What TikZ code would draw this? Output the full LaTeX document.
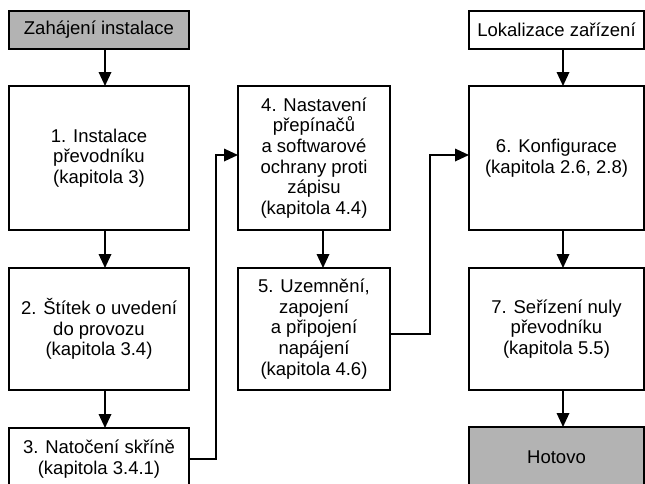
\documentclass[tikz,border=0pt]{standalone}
\usepackage{fontspec}
\setmainfont{Liberation Sans}
\usetikzlibrary{arrows.meta}
\definecolor{boxgray}{RGB}{179,179,179}
\tikzset{
  box/.style={draw=black, line width=1.8pt, rectangle, anchor=north west,
    inner sep=0pt, outer sep=0pt, align=center,
    font=\fontsize{18.5}{20.6}\selectfont},
  grey/.style={fill=boxgray},
  flow/.style={draw=black, line width=1.8pt,
    -{Triangle[length=14pt,width=12.5pt]}},
  link/.style={draw=black, line width=1.8pt}
}
\begin{document}
\begin{tikzpicture}[x=1pt,y=-1pt]
\useasboundingbox (0,0) rectangle (645,483);
% column 1
\node[box,grey,minimum width=180pt,minimum height=38pt] (start) at (9,11) {Zahájení instalace};
\node[box,minimum width=180pt,minimum height=144pt] (b1) at (9,86) {1. Instalace\\převodníku\\(kapitola 3)};
\node[box,minimum width=180pt,minimum height=122pt] (b2) at (9,268) {2. Štítek o uvedení\\do provozu\\(kapitola 3.4)};
\node[box,minimum width=180pt,minimum height=62pt] (b3) at (9,428) {3. Natočení skříně\\(kapitola 3.4.1)};
% column 2
\node[box,minimum width=152pt,minimum height=144pt] (b4) at (238,86) {4. Nastavení\\přepínačů\\a softwarové\\ochrany proti\\zápisu\\(kapitola 4.4)};
\node[box,minimum width=152pt,minimum height=122pt] (b5) at (238,268) {5. Uzemnění,\\zapojení\\a připojení\\napájení\\(kapitola 4.6)};
% column 3
\node[box,minimum width=175pt,minimum height=38pt] (loc) at (469,11) {Lokalizace zařízení};
\node[box,minimum width=175pt,minimum height=144pt] (b6) at (469,86) {6. Konfigurace\\(kapitola 2.6, 2.8)};
\node[box,minimum width=175pt,minimum height=122pt] (b7) at (469,268) {7. Seřízení nuly\\převodníku\\(kapitola 5.5)};
\node[box,grey,minimum width=175pt,minimum height=60pt] (done) at (469,427) {Hotovo};
% arrow x positions
\coordinate (xl) at (105,0);
\coordinate (xm) at (323,0);
\coordinate (xr) at (563,0);
\draw[flow] (start.south -| xl) -- (b1.north -| xl);
\draw[flow] (b1.south -| xl) -- (b2.north -| xl);
\draw[flow] (b2.south -| xl) -- (b3.north -| xl);
\draw[flow] (b4.south -| xm) -- (b5.north -| xm);
\draw[flow] (loc.south -| xr) -- (b6.north -| xr);
\draw[flow] (b6.south -| xr) -- (b7.north -| xr);
\draw[flow] (b7.south -| xr) -- (done.north -| xr);
% cross connectors
\coordinate (j1) at (216,155);
\coordinate (j2) at (430,155);
\coordinate (y5) at (0,334);
\draw[flow] (b3.east) -| (j1) -- (j1 -| b4.west);
\draw[flow] (b5.east |- y5) -| (j2) -- (j2 -| b6.west);
\end{tikzpicture}
\end{document}
